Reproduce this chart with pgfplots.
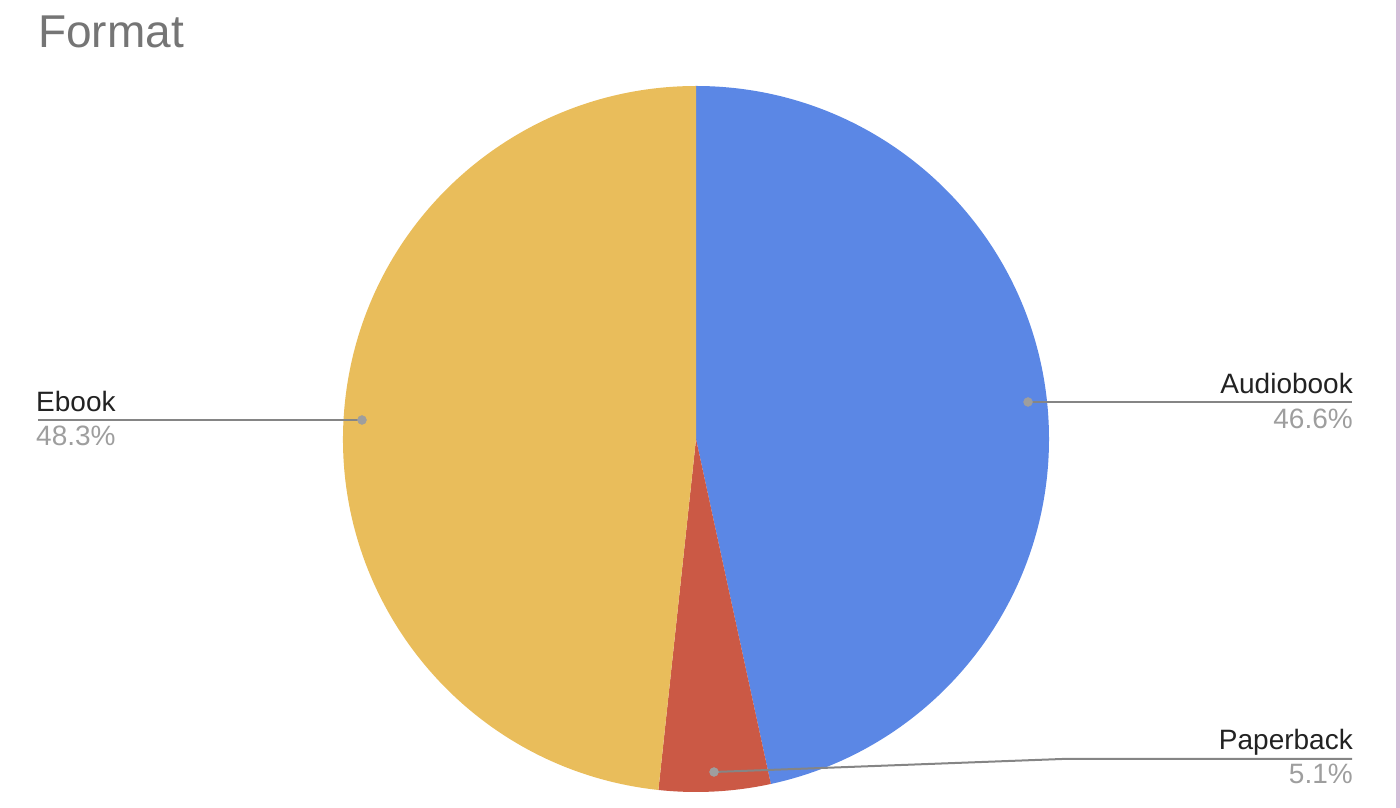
\documentclass[border=0pt]{standalone}
\usepackage{pgfplots}
\pgfplotsset{compat=1.18}
\usepackage{fontspec}
\setmainfont{Liberation Sans}

\definecolor{audio}{HTML}{5B87E5}
\definecolor{paper}{HTML}{CB5945}
\definecolor{ebook}{HTML}{E9BD5B}
\definecolor{titlegray}{HTML}{757575}
\definecolor{labelblack}{HTML}{222222}
\definecolor{pctgray}{HTML}{9E9E9E}
\definecolor{leader}{HTML}{858585}
\definecolor{strip}{HTML}{D4BFD9}

\begin{document}
\begin{tikzpicture}
\begin{axis}[
    x=1pt, y=1pt,
    xmin=0, xmax=1400, ymin=0, ymax=808,
    hide axis, clip=false,
  ]
  % shares: Audiobook 46.6, Paperback 5.1, Ebook 48.3 (clockwise from top)
  \fill[audio] (axis cs:696,369) -- (axis cs:696,722)
    arc[start angle=90, end angle={90-3.6*46.6}, radius=353] -- cycle;
  \fill[paper] (axis cs:696,369) -- ++({353*cos(90-3.6*46.6)},{353*sin(90-3.6*46.6)})
    arc[start angle={90-3.6*46.6}, end angle={90-3.6*(46.6+5.1)}, radius=353] -- cycle;
  \fill[ebook] (axis cs:696,369) -- ++({353*cos(90-3.6*51.7)},{353*sin(90-3.6*51.7)})
    arc[start angle={90-3.6*51.7}, end angle={90-3.6*(51.7+48.3)}, radius=353] -- cycle;

  % leader lines
  \addplot[leader, line width=2pt, no marks] coordinates {(38,388) (362,388)};
  \addplot[leader, line width=2pt, no marks] coordinates {(1028,406) (1352,406)};
  \addplot[leader, line width=2pt, no marks] coordinates {(714,36) (1062,49) (1352,49)};
  \addplot[only marks, mark=*, mark size=4.5pt, pctgray, mark options={draw=none}]
    coordinates {(362,388) (1028,406) (714,36)};

  % labels
  \node[anchor=base west, text=titlegray, inner sep=0pt, font=\fontsize{46}{54}\selectfont]
    at (axis cs:38,760) {Format};
  \node[anchor=base west, text=labelblack, inner sep=0pt, font=\fontsize{28}{32}\selectfont]
    at (axis cs:36,396) {Ebook};
  \node[anchor=base west, text=pctgray, inner sep=0pt, font=\fontsize{28}{32}\selectfont]
    at (axis cs:36,362) {48.3\%};
  \node[anchor=base east, text=labelblack, inner sep=0pt, font=\fontsize{28}{32}\selectfont]
    at (axis cs:1353,414) {Audiobook};
  \node[anchor=base east, text=pctgray, inner sep=0pt, font=\fontsize{28}{32}\selectfont]
    at (axis cs:1353,379) {46.6\%};
  \node[anchor=base east, text=labelblack, inner sep=0pt, font=\fontsize{28}{32}\selectfont]
    at (axis cs:1353,58) {Paperback};
  \node[anchor=base east, text=pctgray, inner sep=0pt, font=\fontsize{28}{32}\selectfont]
    at (axis cs:1353,24) {5.1\%};

  % right edge strip
  \fill[strip] (axis cs:1396,0) rectangle (axis cs:1400,808);
\end{axis}
\pgfresetboundingbox
\useasboundingbox (current axis.south west) rectangle (current axis.north east);
\end{tikzpicture}
\end{document}
